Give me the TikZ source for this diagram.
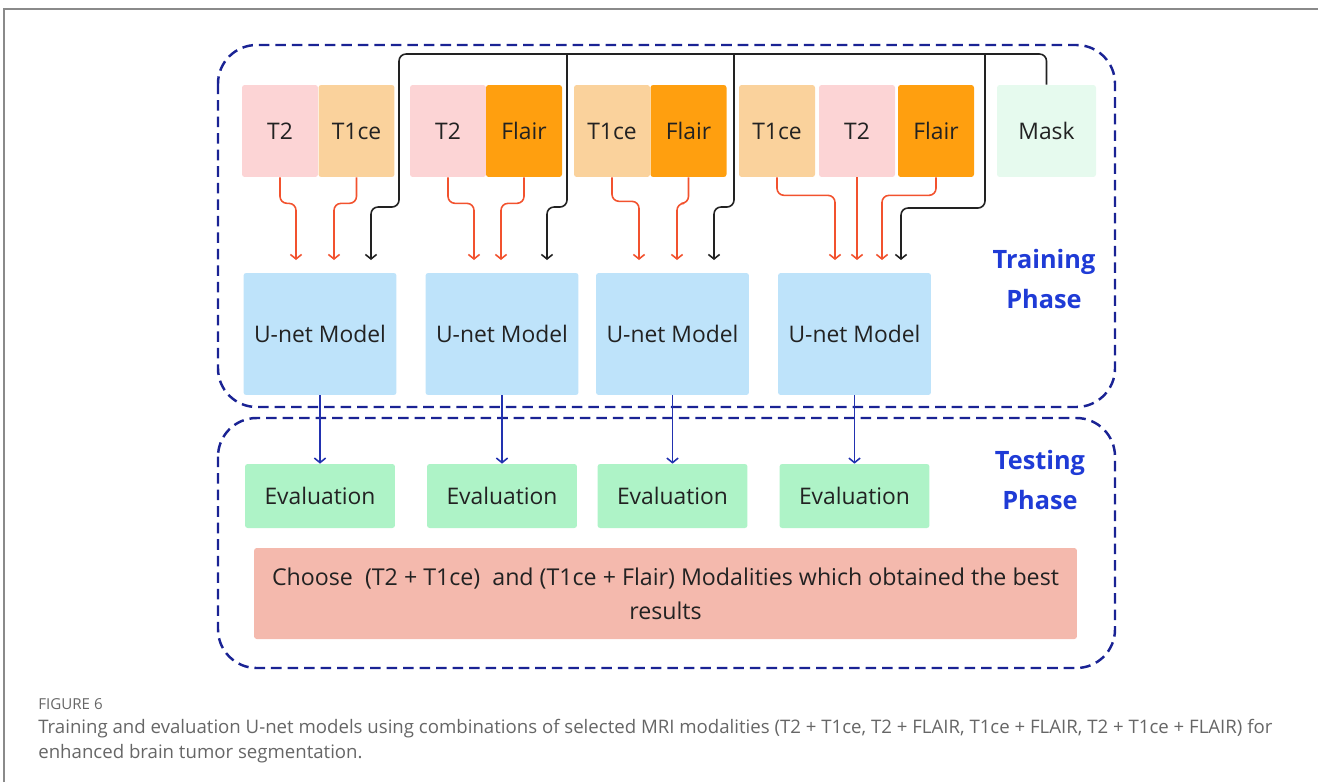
\documentclass[tikz,border=0pt]{standalone}
\usepackage{fontspec}
\setmainfont{Open Sans}
\usepackage{xcolor}
\usetikzlibrary{arrows.meta,positioning}

\definecolor{t2pink}{HTML}{FCD4D5}
\definecolor{t1ceorange}{HTML}{FAD29C}
\definecolor{flairorange}{HTML}{FF9F0F}
\definecolor{maskgreen}{HTML}{E6FAEE}
\definecolor{unetblue}{HTML}{BEE3FA}
\definecolor{evalgreen}{HTML}{AEF3C7}
\definecolor{choosered}{HTML}{F4B9AD}
\definecolor{arrred}{HTML}{F2522E}
\definecolor{arrblue}{HTML}{2232B0}
\definecolor{dashblue}{HTML}{1A2394}
\definecolor{phaseblue}{HTML}{1F3BD6}
\definecolor{txtdark}{HTML}{222222}
\definecolor{capgray}{HTML}{666666}
\definecolor{framegray}{HTML}{8A8A8A}

\begin{document}
\begin{tikzpicture}[
  x=0.02cm, y=-0.02cm,
  modbox/.style={
    rectangle, rounded corners=1.5pt, inner sep=0pt,
    minimum width=15.2mm, minimum height=18.4mm,
    font=\fontsize{13}{15}\selectfont, text=txtdark
  },
  t2box/.style={modbox, fill=t2pink},
  t1cebox/.style={modbox, fill=t1ceorange},
  flairbox/.style={modbox, fill=flairorange},
  maskbox/.style={modbox, fill=maskgreen, minimum width=19.8mm},
  unetbox/.style={modbox, fill=unetblue, minimum width=30.6mm, minimum height=24.4mm},
  evalbox/.style={modbox, fill=evalgreen, minimum width=30mm, minimum height=12.8mm},
  choosebox/.style={modbox, fill=choosered, minimum width=164.6mm, minimum height=18.2mm,
    align=center, font=\fontsize{13.2}{19.3}\selectfont},
  phasebox/.style={draw=dashblue, line width=1.4pt, dash pattern=on 6pt off 3.4pt,
    rounded corners=22pt},
  phaselabel/.style={font=\fontsize{14.4}{22.7}\selectfont\bfseries, text=phaseblue,
    align=center},
  inarr/.style={-{Straight Barb[length=2.6pt,width=6.4pt]}, line width=0.9pt,
    draw=arrred, rounded corners=4pt},
  maskarr/.style={-{Straight Barb[length=2.6pt,width=6.4pt]}, line width=0.9pt,
    draw=txtdark, rounded corners=4pt},
  outarr/.style={-{Straight Barb[length=2.6pt,width=6.4pt]}, line width=0.9pt,
    draw=arrblue},
]
\useasboundingbox (0,0) rectangle (1318,782);

%% ── Page frame ───────────────────────────────────────────────────────────────
\draw[framegray, line width=0.9pt] (4,782) -- (4,9) -- (1318,9);

%% ── Phases ───────────────────────────────────────────────────────────────────
\draw[phasebox] (218,45)  rectangle (1115,407);
\draw[phasebox] (218,418) rectangle (1115,668);
\node[phaselabel] (train) at (1044,279) {Training\\Phase};
\node[phaselabel] (test)  at (1040,480) {Testing\\Phase};

%% ── Modalities ───────────────────────────────────────────────────────────────
\node[t2box]    (t2a)    at (280,  131) {T2};
\node[t1cebox]  (t1cea)  at (356.5,131) {T1ce};
\node[t2box]    (t2b)    at (448,  131) {T2};
\node[flairbox] (flairb) at (524,  131) {Flair};
\node[t1cebox]  (t1cec)  at (612,  131) {T1ce};
\node[flairbox] (flairc) at (688.5,131) {Flair};
\node[t1cebox]  (t1ced)  at (777,  131) {T1ce};
\node[t2box]    (t2d)    at (857,  131) {T2};
\node[flairbox] (flaird) at (936,  131) {Flair};
\node[maskbox]  (mask)   at (1046.5,131) {Mask};

%% ── Models and evaluation ────────────────────────────────────────────────────
\node[unetbox] (m1) at (320,  334) {U-net Model};
\node[unetbox] (m2) at (502,  334) {U-net Model};
\node[unetbox] (m3) at (672.5,334) {U-net Model};
\node[unetbox] (m4) at (854.5,334) {U-net Model};

\node[evalbox] (e1) at (320,  496) {Evaluation};
\node[evalbox] (e2) at (502,  496) {Evaluation};
\node[evalbox] (e3) at (672.5,496) {Evaluation};
\node[evalbox] (e4) at (854.5,496) {Evaluation};

\node[choosebox] (best) at (665.5,593.5)
  {Choose\ \ (T2 + T1ce)\ \ and (T1ce + Flair) Modalities which obtained the best\\results};

%% ── Arrow ends above the models ──────────────────────────────────────────────
\coordinate (r1a) at (296,260);  \coordinate (r1b) at (334,260);  \coordinate (k1) at (371,260);
\coordinate (r2a) at (474,260);  \coordinate (r2b) at (501,260);  \coordinate (k2) at (547,260);
\coordinate (r3a) at (639,260);  \coordinate (r3b) at (677,260);  \coordinate (k3) at (714,260);
\coordinate (r4a) at (835,260);  \coordinate (r4b) at (857,260);  \coordinate (r4c) at (882,260);
\coordinate (k4) at (901,260);
% mask bus
\coordinate (j1) at (399,54);  \coordinate (j2) at (567,54);
\coordinate (j3) at (734,54);  \coordinate (j4) at (985,54);

%% ── Edges ────────────────────────────────────────────────────────────────────
\draw[inarr] (t2a.south)    -- ++(0,26) -| (r1a);
\draw[inarr] (t1cea.south)  -- ++(0,26) -| (r1b);
\draw[inarr] (t2b.south)    -- ++(0,26) -| (r2a);
\draw[inarr] (flairb.south) -- ++(0,26) -| (r2b);
\draw[inarr] (t1cec.south)  -- ++(0,24) -| (r3a);
\draw[inarr] (flairc.south) -- ++(0,26) -| (r3b);
\draw[inarr] (t1ced.south)  -- ++(0,18) -| (r4a);
\draw[inarr] (t2d.south)    -- (r4b);
\draw[inarr] (flaird.south) -- ++(0,18) -| (r4c);

\draw[maskarr] (mask.north) |- (j1) -- ++(0,153) -| (k1);
\draw[maskarr] (j2) -- ++(0,153) -| (k2);
\draw[maskarr] (j3) -- ++(0,153) -| (k3);
\draw[maskarr] (j4) -- ++(0,154) -| (k4);

\draw[outarr] (m1) -- (e1);
\draw[outarr] (m2) -- (e2);
\draw[outarr] (m3) -- (e3);
\draw[outarr] (m4) -- (e4);

%% ── Caption ──────────────────────────────────────────────────────────────────
\node[anchor=west, text=capgray, inner sep=0pt, font=\fontsize{8.6}{10}\selectfont] (fig) at (38,704) {FIGURE 6};
\node[anchor=north west, text=capgray, align=left, inner sep=0pt,
      font=\fontsize{10.6}{14.2}\selectfont] (cap) at (38,719)
  {Training and evaluation U-net models using combinations of selected MRI modalities (T2 + T1ce, T2 + FLAIR, T1ce + FLAIR, T2 + T1ce + FLAIR) for\\
   enhanced brain tumor segmentation.};

\end{tikzpicture}
\end{document}
